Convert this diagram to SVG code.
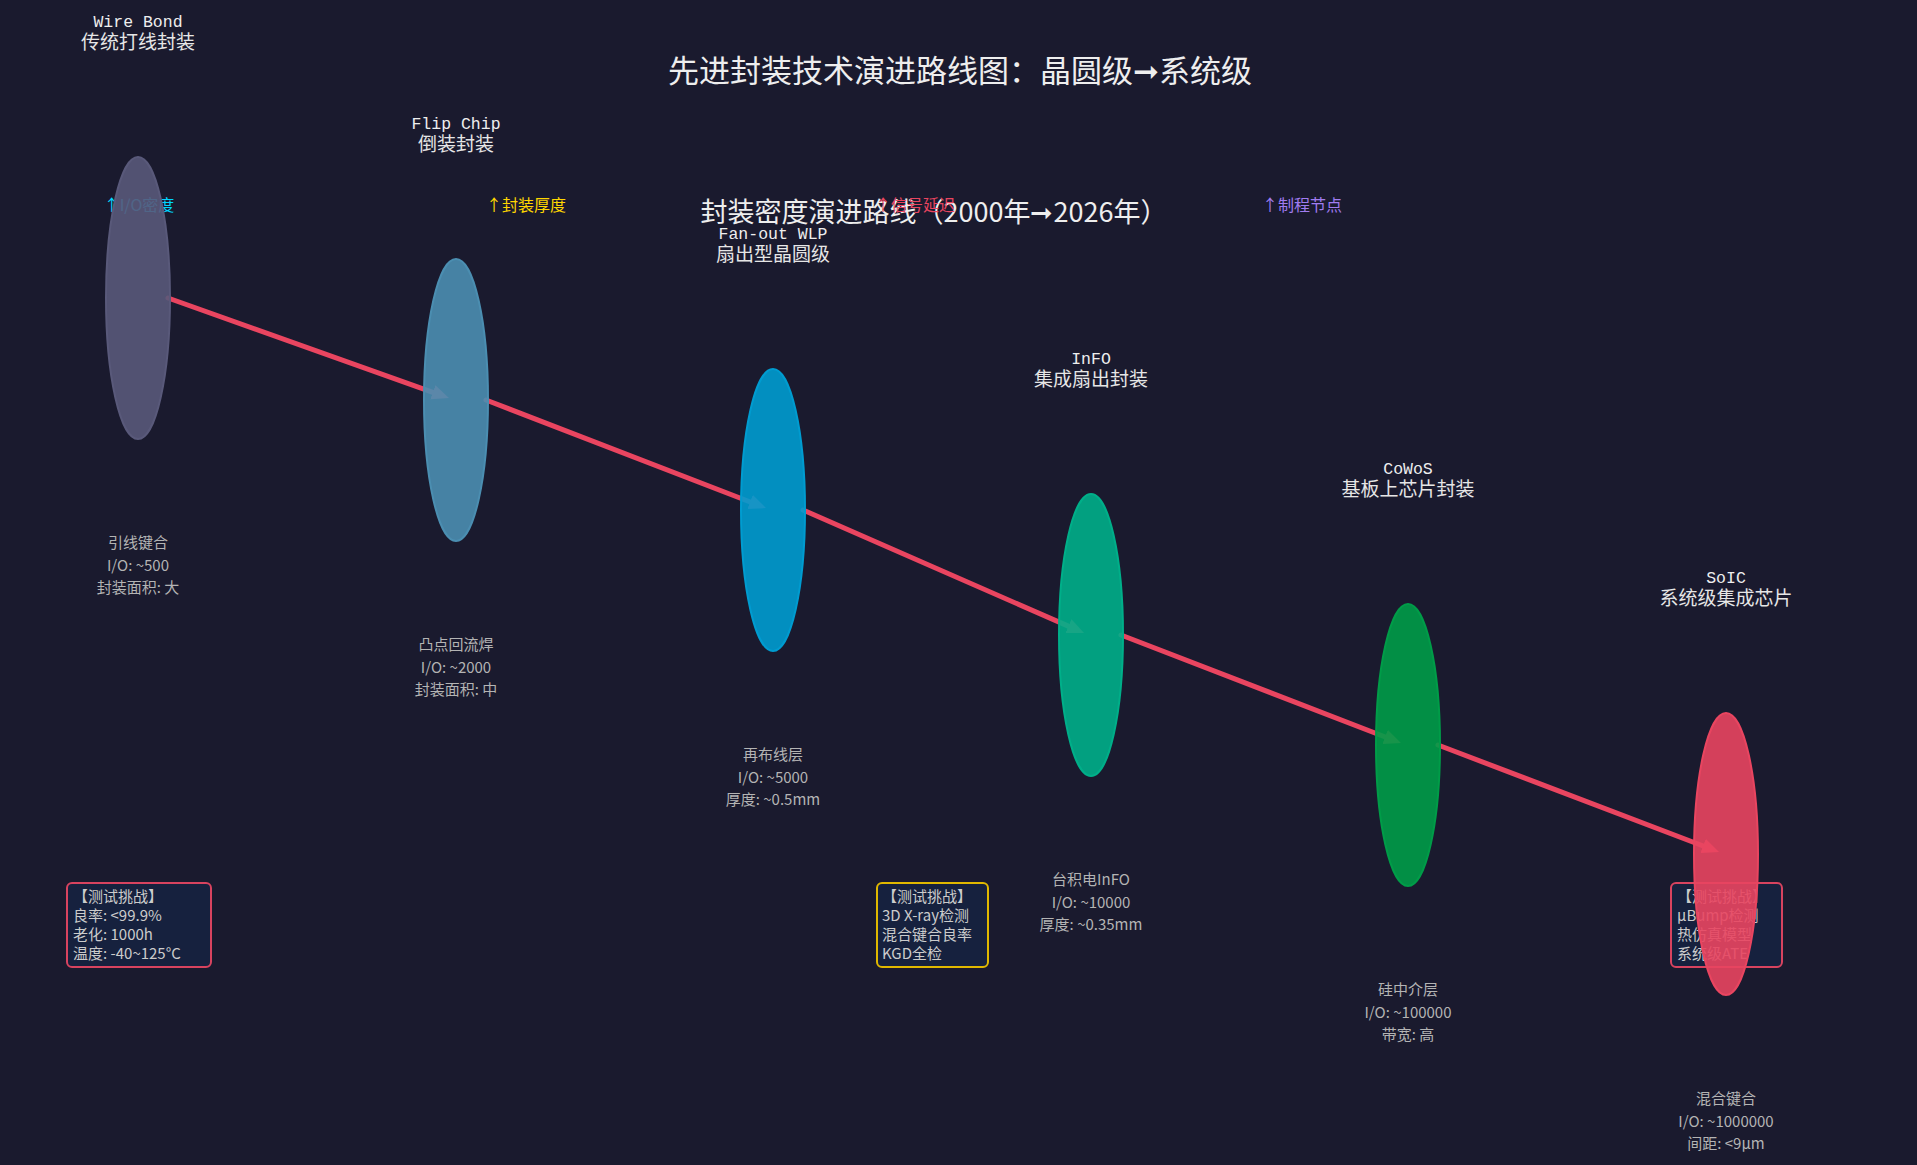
<svg xmlns="http://www.w3.org/2000/svg" width="1917" height="1165" viewBox="0 0 1917 1165">
<defs>
<style>
text{font-family:"Noto Sans CJK SC","Noto Sans",sans-serif}
.title{font-size:31px;fill:#eeeeee;text-anchor:middle}
.sub{font-size:27px;fill:#eeeeee;text-anchor:middle}
.ind{font-size:16px;text-anchor:middle}
.nm{font-family:"Liberation Mono","Noto Sans CJK SC",monospace;font-size:16.5px;fill:#eeeeee;text-anchor:middle}
.cn{font-size:19px;fill:#e6e6e6;text-anchor:middle}
.dt{font-size:15px;fill:#b4b4b4;text-anchor:middle}
.bx{fill:#16213e;stroke-width:2}
.bt{font-size:15px;fill:#cccccc}
.el{fill-opacity:0.9;stroke-width:2}
.conn{stroke:#e94560;stroke-width:5;fill:none;stroke-linecap:round;marker-end:url(#ah)}
</style>
<marker id="ah" markerUnits="userSpaceOnUse" markerWidth="18" markerHeight="16" refX="3" refY="7.5" orient="auto">
<path d="M0,0 L17,7.5 L0,15 z" fill="#e94560"/>
</marker>
</defs>
<rect width="1917" height="1165" fill="#1a1a2e"/>
<text class="title" x="960" y="82">先进封装技术演进路线图：晶圆级➞系统级</text>
<text class="sub" x="934" y="222">封装密度演进路线（2000年➞2026年）</text>
<g id="indicators">
<text class="ind" x="139" y="211" fill="#00d4ff">↑I/O密度</text>
<text class="ind" x="526" y="211" fill="#ffd700">↑封装厚度</text>
<text class="ind" x="915" y="211" fill="#e94560">↑信号延迟</text>
<text class="ind" x="1302" y="211" fill="#a07cf0">↑制程节点</text>
</g>
<g id="box-1">
<rect class="bx" x="67" y="883" width="144" height="84" rx="5" stroke="#d8435f"/>
<text class="bt" x="73" y="902">【测试挑战】</text>
<text class="bt" x="73" y="921">良率: &lt;99.9%</text>
<text class="bt" x="73" y="940">老化: 1000h</text>
<text class="bt" x="73" y="959">温度: -40~125°C</text>
</g>
<g id="box-2">
<rect class="bx" x="877" y="883" width="111" height="84" rx="5" stroke="#e0b800"/>
<text class="bt" x="882" y="902">【测试挑战】</text>
<text class="bt" x="882" y="921">3D X-ray检测</text>
<text class="bt" x="882" y="940">混合键合良率</text>
<text class="bt" x="882" y="959">KGD全检</text>
</g>
<g id="box-3">
<rect class="bx" x="1671" y="883" width="111" height="84" rx="5" stroke="#d8435f"/>
<text class="bt" x="1677" y="902">【测试挑战】</text>
<text class="bt" x="1677" y="921">µBump检测</text>
<text class="bt" x="1677" y="940">热仿真模型</text>
<text class="bt" x="1677" y="959">系统级ATE</text>
</g>
<g id="connectors">
<line class="conn" x1="168" y1="298" x2="435.7" y2="393.3"/>
<line class="conn" x1="486" y1="400" x2="752.9" y2="503"/>
<line class="conn" x1="803" y1="510" x2="1071.2" y2="627.4"/>
<line class="conn" x1="1121" y1="635" x2="1387.9" y2="738"/>
<line class="conn" x1="1438" y1="745" x2="1705.9" y2="847"/>
</g>
<g id="node-wirebond">
<ellipse class="el" cx="138" cy="298" rx="32" ry="141" fill="#59597a" stroke="#59597a"/>
<text class="nm" x="138" y="27">Wire Bond</text>
<text class="cn" x="138" y="49">传统打线封装</text>
<text class="dt" x="138" y="548">引线键合</text>
<text class="dt" x="138" y="571">I/O: ~500</text>
<text class="dt" x="138" y="593">封装面积: 大</text>
</g>
<g id="node-flipchip">
<ellipse class="el" cx="456" cy="400" rx="32" ry="141" fill="#4b8eb1" stroke="#4b8eb1"/>
<text class="nm" x="456" y="129">Flip Chip</text>
<text class="cn" x="456" y="151">倒装封装</text>
<text class="dt" x="456" y="650">凸点回流焊</text>
<text class="dt" x="456" y="673">I/O: ~2000</text>
<text class="dt" x="456" y="695">封装面积: 中</text>
</g>
<g id="node-fanout">
<ellipse class="el" cx="773" cy="510" rx="32" ry="141" fill="#009cd0" stroke="#009cd0"/>
<text class="nm" x="773" y="239">Fan-out WLP</text>
<text class="cn" x="773" y="261">扇出型晶圆级</text>
<text class="dt" x="773" y="760">再布线层</text>
<text class="dt" x="773" y="783">I/O: ~5000</text>
<text class="dt" x="773" y="805">厚度: ~0.5mm</text>
</g>
<g id="node-info">
<ellipse class="el" cx="1091" cy="635" rx="32" ry="141" fill="#00af89" stroke="#00af89"/>
<text class="nm" x="1091" y="364">InFO</text>
<text class="cn" x="1091" y="386">集成扇出封装</text>
<text class="dt" x="1091" y="885">台积电InFO</text>
<text class="dt" x="1091" y="908">I/O: ~10000</text>
<text class="dt" x="1091" y="930">厚度: ~0.35mm</text>
</g>
<g id="node-cowos">
<ellipse class="el" cx="1408" cy="745" rx="32" ry="141" fill="#009c48" stroke="#009c48"/>
<text class="nm" x="1408" y="474">CoWoS</text>
<text class="cn" x="1408" y="496">基板上芯片封装</text>
<text class="dt" x="1408" y="995">硅中介层</text>
<text class="dt" x="1408" y="1018">I/O: ~100000</text>
<text class="dt" x="1408" y="1040">带宽: 高</text>
</g>
<g id="node-soic">
<ellipse class="el" cx="1726" cy="854" rx="32" ry="141" fill="#e94560" stroke="#e94560"/>
<text class="nm" x="1726" y="583">SoIC</text>
<text class="cn" x="1726" y="605">系统级集成芯片</text>
<text class="dt" x="1726" y="1104">混合键合</text>
<text class="dt" x="1726" y="1127">I/O: ~1000000</text>
<text class="dt" x="1726" y="1149">间距: &lt;9μm</text>
</g>
</svg>
